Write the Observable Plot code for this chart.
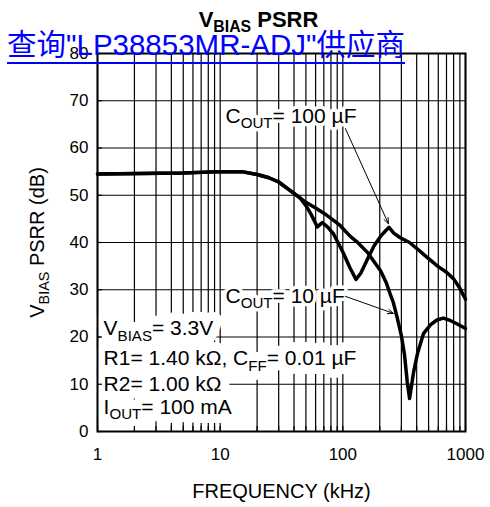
<!DOCTYPE html>
<html><head><meta charset="utf-8">
<script src="https://cdn.jsdelivr.net/npm/d3@7"></script>
<script src="https://cdn.jsdelivr.net/npm/@observablehq/plot@0.6"></script>
<style>
body{margin:0;background:#fff;}
#wrap{position:relative;width:490px;height:507px;overflow:hidden;}
#link{position:absolute;left:7px;top:30px;font-family:"Liberation Sans","Noto Sans CJK SC",sans-serif;font-size:29.5px;line-height:29px;color:#0000ff;text-decoration:underline;text-decoration-thickness:2px;text-underline-offset:7px;white-space:nowrap;}
</style></head><body>
<div id="wrap"><div id="chart"></div><div id="link">查询"LP38853MR-ADJ"供应商</div></div>
<script>
const freqTicks = [1,2,3,4,5,6,7,8,9,10,20,30,40,50,60,70,80,90,100,200,300,400,500,600,700,800,900,1000];
const freqLabels = [1,10,100,1000];
const dbTicks = [0,10,20,30,40,50,60,70,80];

const freq100 = [1,5,10,15,20,25,30,35,40,45,50,55,62,68,75,84,100,115,128,140,159,180,203,225,238,260,294,350,420,500,592,700,800,900,1000];
const psrr100 = [54.5,54.7,55,55,54.4,53.7,52.8,51.5,50.4,49.4,47.8,46,43.3,44.2,43.3,41.8,38,34.5,32.2,33.5,36.5,39.3,41.3,42.6,43.2,42,41,40,38.3,36.6,35,33.7,32.3,30.3,28];

const freq10 = [1,5,10,15,20,25,30,35,40,45,50,60,70,80,95,115,131,160,203,225,244,258,278,300,318,335,350,362,377,406,454,520,585,660,750,850,1000];
const psrr10 = [54.5,54.7,55,55,54.4,53.7,52.8,51.5,50.4,49.4,48.5,47.3,46.2,45.1,43.6,41.3,40.1,37.8,34,31.6,29,27.3,24,20.3,16.3,10.5,7,9.5,12.5,16.5,20.7,22.6,23.6,24,23.5,22.8,21.8];

const annoLabels = ["C_{OUT}= 100 µF", "C_{OUT}= 10 µF"];
const annoFreq = [11.05, 11.05];
const annoDb = [66.8, 28.7];

const paramLabels = ["V_{BIAS}= 3.3V", "R1= 1.40 kΩ, C_{FF}= 0.01 µF", "R2= 1.00 kΩ", "I_{OUT}= 100 mA"];
const paramFreq = [1.12, 1.12, 1.12, 1.12];
const paramDb = [21.8, 15.4, 10.1, 5.1];

const arrowFromFreq = [105, 105];
const arrowFromDb = [64.1, 28.6];
const arrowToFreq = [235, 258];
const arrowToDb = [44, 25];

const titleText = "V_{BIAS} PSRR";
const xLabel = "FREQUENCY (kHz)";
const yLabel = "V_{BIAS} PSRR (dB)";

const d100 = freq100.map((f, i) => ({f, v: psrr100[i]}));
const d10 = freq10.map((f, i) => ({f, v: psrr10[i]}));
const annos = annoLabels.map((t, i) => ({t, f: annoFreq[i], v: annoDb[i]}));
const params = paramLabels.map((t, i) => ({t, f: paramFreq[i], v: paramDb[i]}));
const arrows = arrowFromFreq.map((f, i) => ({f1: f, v1: arrowFromDb[i], f2: arrowToFreq[i], v2: arrowToDb[i]}));

const W = 490, H = 507, mT = 53, mB = 76, mL = 97, mR = 25;
const frameW = W - mL - mR, frameH = H - mT - mB;

const txt = {x: "f", y: "v", text: "t", textAnchor: "start", lineAnchor: "middle", fontSize: 21};

const chart = Plot.plot({
  width: W, height: H,
  marginTop: mT, marginBottom: mB, marginLeft: mL, marginRight: mR,
  style: {fontFamily: "'Liberation Sans', Arial, sans-serif", color: "black", background: "white"},
  x: {type: "log", domain: [1, 1000]},
  y: {domain: [0, 80]},
  marks: [
    Plot.ruleX(freqTicks, {x: d => d, stroke: "#000", strokeWidth: 1.2}),
    Plot.ruleY(dbTicks, {y: d => d, stroke: "#000", strokeWidth: 1.2}),
    Plot.line(d100, {x: "f", y: "v", stroke: "#000", strokeWidth: 3.5, strokeLinejoin: "round"}),
    Plot.line(d10, {x: "f", y: "v", stroke: "#000", strokeWidth: 3.5, strokeLinejoin: "round"}),
    Plot.text(params, {...txt, fill: "none", stroke: "white", strokeWidth: 18, strokeLinejoin: "round"}),
    Plot.text(annos, {...txt, fill: "none", stroke: "white", strokeWidth: 7, strokeLinejoin: "round"}),
    Plot.text(params, {...txt, fill: "black"}),
    Plot.text(annos, {...txt, fill: "black"}),
    Plot.arrow(arrows, {x1: "f1", y1: "v1", x2: "f2", y2: "v2", stroke: "#000", strokeWidth: 1, headLength: 9, headAngle: 45}),
    Plot.frame({stroke: "#000", strokeWidth: 2}),
    Plot.tickX(freqTicks, {x: d => d, insetTop: frameH - 5, stroke: "#000", strokeWidth: 1.2}),
    Plot.tickY(dbTicks, {y: d => d, insetRight: frameW - 5, stroke: "#000", strokeWidth: 1.2}),
    Plot.axisX({ticks: freqLabels, tickFormat: d => String(d), tickSize: 0, tickPadding: 16, fontSize: 17, label: null}),
    Plot.axisY({ticks: dbTicks, tickFormat: d => String(d), tickSize: 0, tickPadding: 9, fontSize: 17, label: null}),
    Plot.text([xLabel], {frameAnchor: "bottom", dy: 66, lineAnchor: "bottom", fontSize: 20}),
    Plot.text([yLabel], {frameAnchor: "left", rotate: -90, dx: -60, lineAnchor: "middle", textAnchor: "middle", fontSize: 20}),
    Plot.text([titleText], {frameAnchor: "top", dx: -23, dy: -27, lineAnchor: "bottom", fontSize: 22, fontWeight: "bold"})
  ]
});

function subify(root) {
  root.querySelectorAll("text").forEach(t => {
    const s = t.textContent;
    if (!s.includes("_{")) return;
    while (t.firstChild) t.removeChild(t.firstChild);
    const parts = s.split(/_\{([^}]*)\}/);
    let shifted = false;
    parts.forEach((p, i) => {
      if (p === "") return;
      const ts = document.createElementNS("http://www.w3.org/2000/svg", "tspan");
      ts.textContent = p;
      if (i % 2 === 1) { ts.setAttribute("font-size", "72%"); ts.setAttribute("dy", "0.35em"); shifted = true; }
      else if (shifted) { ts.setAttribute("dy", "-0.252em"); shifted = false; }
      t.appendChild(ts);
    });
  });
}
subify(chart);
document.getElementById("chart").appendChild(chart);
</script>
</body></html>
